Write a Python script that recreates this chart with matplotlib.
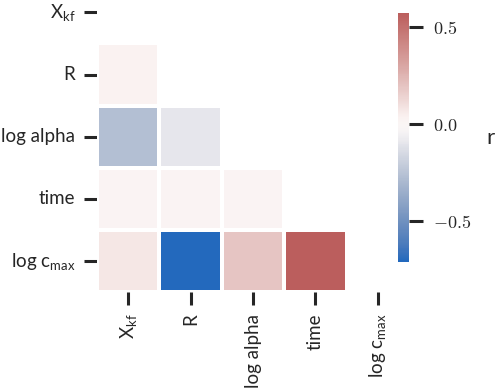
import numpy as np
import matplotlib
matplotlib.use("Agg")
import matplotlib.pyplot as plt
import seaborn as sns

labels = [r"$\mathrm{X_{kf}}$", "R", "log alpha", "time", r"$\mathrm{log\ c_{max}}$"]

# lower triangle of the correlation matrix (row, col)
r_R = [0.03]
r_alpha = [-0.27, -0.10]
r_time = [0.015, 0.015, 0.015]
r_cmax = [0.07, -0.71, 0.19, 0.57]

rows = [[], r_R, r_alpha, r_time, r_cmax]
n = len(labels)
corr = np.eye(n)
for i, vals in enumerate(rows):
    for j, v in enumerate(vals):
        corr[i, j] = v
        corr[j, i] = v

mask = np.triu(np.ones_like(corr, dtype=bool))

sns.set_style("white")
plt.rcParams["font.family"] = ["Lato", "DejaVu Sans"]
plt.rcParams["mathtext.fontset"] = "custom"
plt.rcParams["mathtext.rm"] = "Lato"
plt.rcParams["mathtext.it"] = "Lato:italic"

fig = plt.figure(figsize=(5, 3.9), dpi=100)
ax = fig.add_axes([0.194, 0.251, 0.624, 0.797])
cax = fig.add_axes([0.796, 0.328, 0.022, 0.638])

sns.heatmap(corr, mask=mask, cmap="vlag", center=0, ax=ax, cbar_ax=cax,
            linewidths=1.5, linecolor="white", square=False,
            xticklabels=labels, yticklabels=labels)

ax.tick_params(axis="both", length=9.5, width=2.2, color="#262626",
               labelsize=13.5, pad=6, labelcolor="#262626",
               bottom=True, left=True)
ax.tick_params(axis="x", rotation=90)
ax.tick_params(axis="y", rotation=0)

cax.tick_params(length=10, width=2.2, color="#262626", pad=7, right=True)
ticks = [-0.5, 0.0, 0.5]
cax.set_yticks(ticks)
cax.set_yticklabels([r"$%.1f$" % t for t in ticks])
for t in cax.get_yticklabels():
    t.set_math_fontfamily("cm")
    t.set_fontsize(13)
    t.set_color("#262626")
cax.set_ylabel("r", rotation=0, fontsize=16, labelpad=14, va="center")

fig.savefig("out.png", dpi=100)
